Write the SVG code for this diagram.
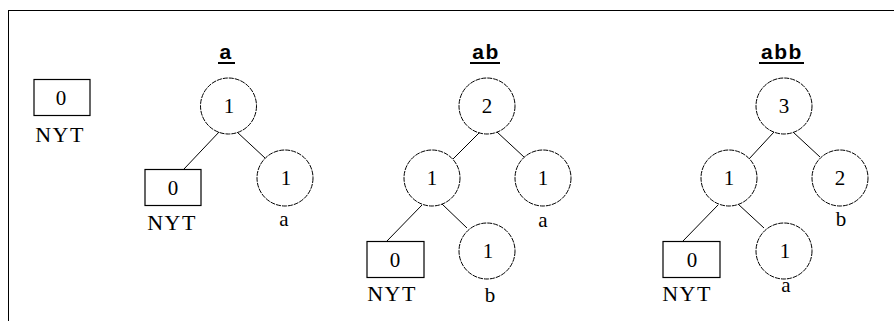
<svg xmlns="http://www.w3.org/2000/svg" width="894" height="321" viewBox="0 0 894 321">
<style>
.c{fill:#fff;stroke:#000;stroke-width:1;stroke-dasharray:5 1}
.b{fill:#fff;stroke:#000;stroke-width:1.2}
.e{stroke:#000;stroke-width:1;fill:none}
.n{font-family:"Liberation Serif",serif;font-size:21px;text-anchor:middle;fill:#000}
.l{font-family:"Liberation Serif",serif;font-size:22px;text-anchor:middle;fill:#000;letter-spacing:1.5px}
.t{font-family:"Liberation Sans",sans-serif;font-size:21px;font-weight:bold;text-anchor:middle;fill:#000;letter-spacing:1.5px}
.u{stroke:#000;stroke-width:2}
</style>
<rect width="894" height="321" fill="#fff"/>
<path class="e" d="M8,10.5H894M8.5,10V321" stroke-width="1.2"/>
<g id="connectors">
<line class="e" x1="220" y1="131" x2="184" y2="169"/>
<line class="e" x1="237" y1="132" x2="265" y2="158"/>
<line class="e" x1="480" y1="132" x2="453" y2="159"/>
<line class="e" x1="497" y1="132" x2="524" y2="157"/>
<line class="e" x1="422" y1="205" x2="387" y2="241"/>
<line class="e" x1="442" y1="204" x2="467" y2="228"/>
<line class="e" x1="774" y1="132" x2="749" y2="159"/>
<line class="e" x1="793" y1="132" x2="820" y2="157"/>
<line class="e" x1="718" y1="205" x2="683" y2="241"/>
<line class="e" x1="738" y1="204" x2="764" y2="228"/>
</g>
<g id="titles">
<text class="t" x="226" y="59">a</text><line class="u" x1="218" y1="63" x2="235" y2="63"/>
<text class="t" x="486" y="59">ab</text><line class="u" x1="470" y1="63" x2="500" y2="63"/>
<text class="t" x="782" y="59">abb</text><line class="u" x1="759" y1="63" x2="804" y2="63"/>
</g>
<g id="t0-nyt"><rect class="b" x="34" y="79.5" width="56" height="36"/><text class="n" x="61" y="105">0</text><text class="l" x="60" y="142">NYT</text></g>
<g id="t1-root"><circle class="c" cx="228.5" cy="106" r="28"/><text class="n" x="229" y="113">1</text></g>
<g id="t1-nyt"><rect class="b" x="145" y="169.5" width="56" height="36"/><text class="n" x="173" y="195">0</text><text class="l" x="172" y="230">NYT</text></g>
<g id="t1-a"><circle class="c" cx="285" cy="178" r="28"/><text class="n" x="286" y="185">1</text><text class="n" x="284" y="226">a</text></g>
<g id="t2-root"><circle class="c" cx="487" cy="106" r="28"/><text class="n" x="487" y="113">2</text></g>
<g id="t2-int"><circle class="c" cx="432" cy="178" r="28"/><text class="n" x="432" y="185">1</text></g>
<g id="t2-a"><circle class="c" cx="543" cy="178" r="28"/><text class="n" x="543" y="185">1</text><text class="n" x="543" y="227">a</text></g>
<g id="t2-nyt"><rect class="b" x="367" y="241.5" width="57" height="36"/><text class="n" x="395" y="267">0</text><text class="l" x="392" y="301">NYT</text></g>
<g id="t2-b"><circle class="c" cx="487" cy="251" r="28"/><text class="n" x="488" y="258">1</text><text class="n" x="490" y="302">b</text></g>
<g id="t3-root"><circle class="c" cx="784" cy="106" r="28"/><text class="n" x="784" y="113">3</text></g>
<g id="t3-int"><circle class="c" cx="729" cy="178" r="28"/><text class="n" x="729" y="185">1</text></g>
<g id="t3-b"><circle class="c" cx="840" cy="178" r="28"/><text class="n" x="840" y="185">2</text><text class="n" x="841" y="226">b</text></g>
<g id="t3-nyt"><rect class="b" x="663" y="241.5" width="57" height="36"/><text class="n" x="692" y="267">0</text><text class="l" x="687" y="301">NYT</text></g>
<g id="t3-a"><circle class="c" cx="784" cy="251" r="28"/><text class="n" x="785" y="258">1</text><text class="n" x="786" y="292">a</text></g>
</svg>
